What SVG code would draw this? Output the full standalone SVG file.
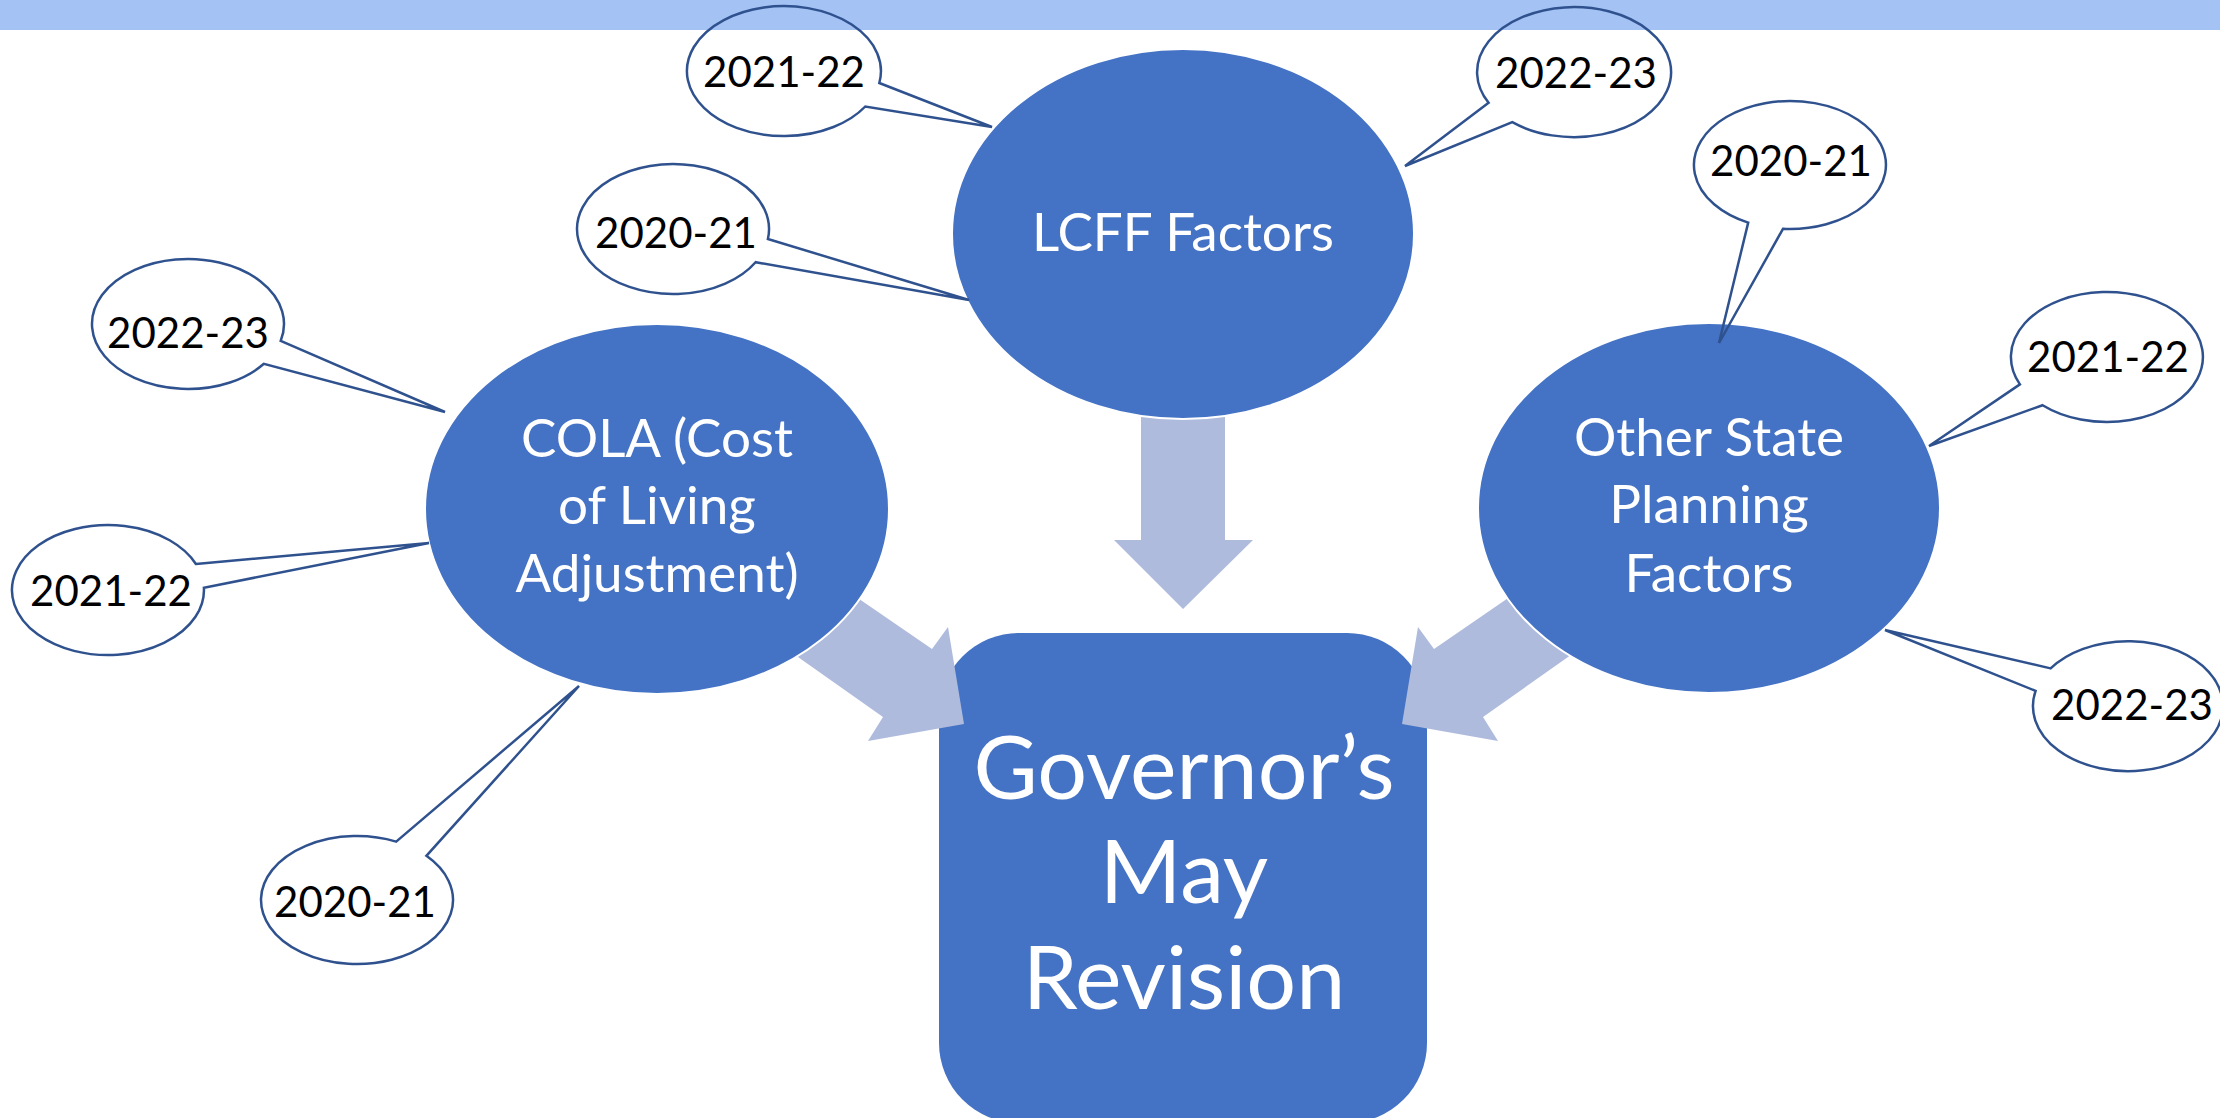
<svg xmlns="http://www.w3.org/2000/svg" width="2220" height="1118" viewBox="0 0 2220 1118">
<style>
.node{fill:#4472C4;stroke:#FFFFFF;stroke-width:2}
.arrow{fill:#AFBBDD}
.bubble{fill:none;stroke:#2F528F;stroke-width:2.5;stroke-linejoin:miter}
.big{font-family:Lato,"Open Sans","Liberation Sans",sans-serif;fill:#FFFFFF;text-anchor:middle}
.mid{font-size:53px}
.gov{font-size:88px}
.yr{font-family:Lato,"Open Sans","Liberation Sans",sans-serif;font-size:42px;fill:#000000;text-anchor:middle}
</style>
<rect x="0" y="0" width="2220" height="30" fill="#A4C2F4"/>
<g id="governor">
<rect class="node" x="939" y="633" width="488" height="490" rx="80" ry="80" style="stroke:none"/>
<text class="big gov" x="1184" y="799">Governor’s</text>
<text class="big gov" x="1184" y="903">May</text>
<text class="big gov" x="1184" y="1009">Revision</text>
</g>
<g id="connectors">
<polygon class="arrow" points="1141,400 1225,400 1225,540 1253,540 1183,609 1114,540 1141,540"/>
<polygon class="arrow" points="835.5,582.7 932,649 948,627 964,724 868,741 883,717 773.5,639.7"/>
<polygon class="arrow" points="1530.5,582.7 1434,649 1418,627 1402,724 1498,741 1483,717 1592.5,639.7"/>
</g>
<g id="lcff">
<ellipse class="node" cx="1183" cy="234" rx="231" ry="185"/>
<text class="big mid" x="1183" y="251">LCFF Factors</text>
</g>
<g id="cola">
<ellipse class="node" cx="657" cy="509" rx="232" ry="185"/>
<text class="big mid" x="657" y="457">COLA (Cost</text>
<text class="big mid" x="657" y="524">of Living</text>
<text class="big mid" x="657" y="592">Adjustment)</text>
</g>
<g id="other">
<ellipse class="node" cx="1709" cy="508" rx="231" ry="185"/>
<text class="big mid" x="1709" y="456">Other State</text>
<text class="big mid" x="1709" y="523">Planning</text>
<text class="big mid" x="1709" y="592">Factors</text>
</g>
<g id="lcff-2021-22">
<path class="bubble" d="M879.3,83 L992,127 L865.3,106.5 A97,65 0 1 1 879.3,83 Z"/>
<text class="yr" x="784" y="87">2021-22</text>
</g>
<g id="lcff-2020-21">
<path class="bubble" d="M767.9,239 L969,300 L755.6,262.2 A96,65 0 1 1 767.9,239 Z"/>
<text class="yr" x="676" y="248">2020-21</text>
</g>
<g id="lcff-2022-23">
<path class="bubble" d="M1488.6,102.8 L1405,166 L1512.3,122.2 A97,65 0 1 0 1488.6,102.8 Z"/>
<text class="yr" x="1576" y="88">2022-23</text>
</g>
<g id="cola-2022-23">
<path class="bubble" d="M280.7,340.9 L445,412 L263.9,363.8 A96,65 0 1 1 280.7,340.9 Z"/>
<text class="yr" x="188" y="348">2022-23</text>
</g>
<g id="cola-2021-22">
<path class="bubble" d="M195.9,564 L429,543 L203.9,587.7 A96,65 0 1 1 195.9,564 Z"/>
<text class="yr" x="111" y="606">2021-22</text>
</g>
<g id="cola-2020-21">
<path class="bubble" d="M396.2,841.6 L579,686 L426.4,855.8 A96,64 0 1 1 396.2,841.6 Z"/>
<text class="yr" x="355" y="917">2020-21</text>
</g>
<g id="other-2020-21">
<path class="bubble" d="M1748.2,222.6 L1719,343 L1783,228.8 A96,64 0 1 0 1748.2,222.6 Z"/>
<text class="yr" x="1791" y="176">2020-21</text>
</g>
<g id="other-2021-22">
<path class="bubble" d="M2019.9,384.4 L1929,446 L2042.6,405.2 A96,65 0 1 0 2019.9,384.4 Z"/>
<text class="yr" x="2108" y="372">2021-22</text>
</g>
<g id="other-2022-23">
<path class="bubble" d="M2050.6,668.4 L1885,630 L2035.6,690.9 A95,65 0 1 0 2050.6,668.4 Z"/>
<text class="yr" x="2132" y="720">2022-23</text>
</g>
</svg>
